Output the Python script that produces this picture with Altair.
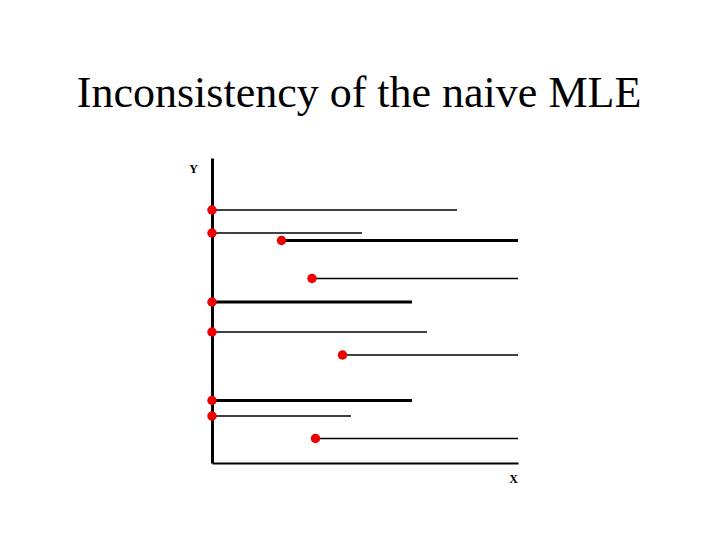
import altair as alt
import pandas as pd

# segment data (x from 0 at Y-axis to 306 at right edge; y from 0 at X-axis)
seg_y     = [253, 230, 222.5, 184.5, 161, 131, 108, 62.5, 47, 24.5]
seg_start = [0, 0, 69.5, 100, 0, 0, 130.5, 0, 0, 103.5]
seg_end   = [245, 150, 306, 306, 200, 215, 306, 200, 139, 306]
seg_thick = [False, False, True, False, True, False, False, True, False, False]

df = pd.DataFrame({"y": seg_y, "x0": seg_start, "x1": seg_end, "thick": seg_thick})

xs = alt.Scale(domain=[0, 306], nice=False, zero=False)
ys = alt.Scale(domain=[0, 305], nice=False, zero=False)

x_axis = alt.Axis(title="X", labels=False, ticks=False, grid=False, domainColor="black",
                  domainWidth=2, titleFont="Liberation Serif", titleFontSize=12,
                  titleFontWeight="bold", titleX=301, titleY=15, titleAlign="center",
                  titleBaseline="middle")
y_axis = alt.Axis(title="Y", labels=False, ticks=False, grid=False, domainColor="black",
                  domainWidth=3, titleFont="Liberation Serif", titleFontSize=12,
                  titleFontWeight="bold", titleAngle=0, titleX=-19, titleY=10,
                  titleAlign="center", titleBaseline="middle")

base = alt.Chart(df)

lines = base.mark_rule(color="black").encode(
    x=alt.X("x0:Q", scale=xs, axis=x_axis),
    x2="x1:Q",
    y=alt.Y("y:Q", scale=ys, axis=y_axis),
    strokeWidth=alt.condition("datum.thick", alt.value(3), alt.value(1.5)),
)

dots = base.mark_circle(color="#ee0000", opacity=1, size=90).encode(
    x=alt.X("x0:Q", scale=xs),
    y=alt.Y("y:Q", scale=ys),
)

chart = alt.layer(lines, dots).properties(
    width=306, height=305,
    background="white",
    title=alt.TitleParams("Inconsistency of the naive MLE", font="Liberation Serif",
                          fontSize=44, fontWeight="normal", color="black",
                          anchor="middle", offset=42, dx=-6),
    autosize=alt.AutoSizeParams(type="none"),
    padding={"left": 204, "top": 150, "right": 194, "bottom": 61},
).configure_view(strokeWidth=0, stroke=None)

chart.save("out.html", embed_options={"renderer": "svg", "actions": False})
